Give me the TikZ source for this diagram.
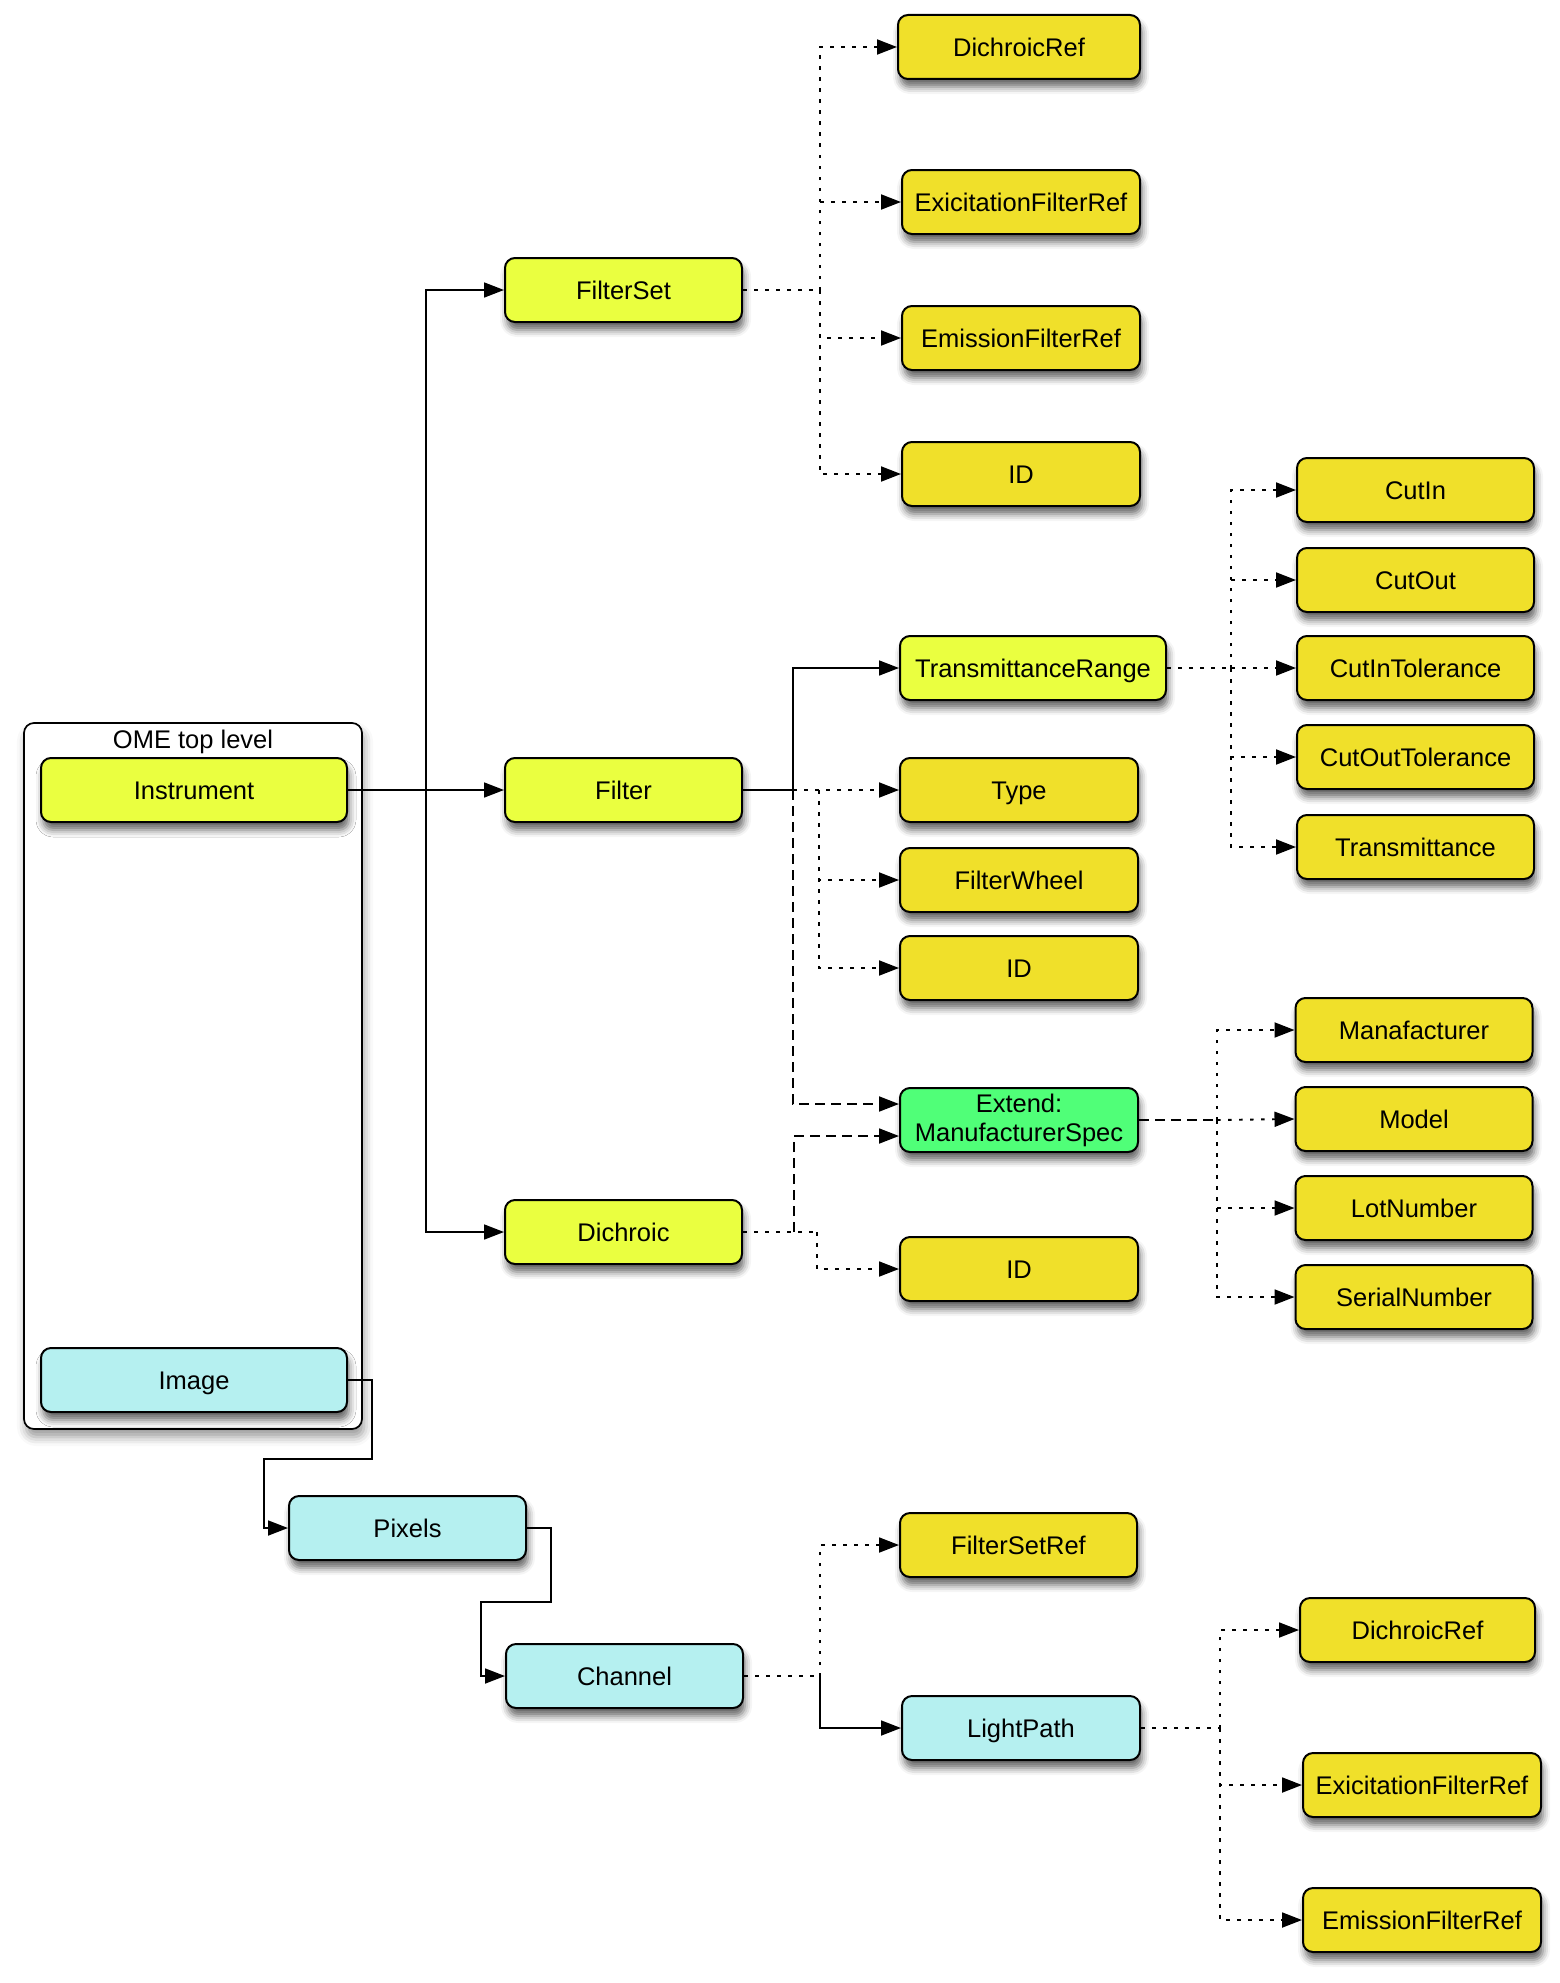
\documentclass[tikz,border=0pt]{standalone}
\usepackage{fontspec}
\setmainfont{Liberation Sans}
\usetikzlibrary{arrows.meta,shadows.blur}

\definecolor{hiyellow}{HTML}{EAFF40}
\definecolor{leafyellow}{HTML}{F0E02A}
\definecolor{imgcyan}{HTML}{B5F0F0}
\definecolor{extgreen}{HTML}{50FF78}

\tikzset{
  box/.style={draw, line width=2pt, rounded corners=10pt, inner sep=0pt,
    minimum height=64pt, align=center,
    text height=18.5pt, text depth=0pt,
    font=\fontsize{25.5}{29}\selectfont,
    blur shadow={shadow xshift=2pt, shadow yshift=-8pt,
      shadow blur radius=7pt, shadow opacity=60}},
  parentbox/.style={box, fill=hiyellow},
  leafbox/.style={box, fill=leafyellow},
  imgbox/.style={box, fill=imgcyan},
  extbox/.style={box, fill=extgreen, text height=, text depth=},
  conn/.style={line width=1.7pt},
  tip/.style={-{Triangle[length=20pt,width=15pt]}},
  dotline/.style={conn, line width=1.9pt, dash pattern=on 3.5pt off 7.5pt},
  dashline/.style={conn, line width=1.9pt, dash pattern=on 10pt off 6pt},
}

\begin{document}
\begin{tikzpicture}[x=1pt,y=-1pt]
\useasboundingbox (0,0) rectangle (1560,1983);

% group frame holding the top-level elements
\node[draw, line width=1.7pt, rounded corners=10pt, fill=white,
  minimum width=338pt, minimum height=706pt, inner sep=0pt,
  blur shadow={shadow xshift=2pt, shadow yshift=-8pt,
      shadow blur radius=9pt, shadow opacity=40}]
  (ome) at (193,1076) {};
\node[font=\fontsize{25.5}{29}\selectfont, inner sep=0pt,
  text height=18.5pt, text depth=0pt] (omelabel) at (193,739) {OME top level};

% top level
\node[parentbox, minimum width=306pt] (inst) at (194,790) {Instrument};
\node[imgbox, minimum width=306pt] (img) at (194,1380) {Image};

% instrument children
\node[parentbox, minimum width=237pt] (fset) at (623.5,290) {FilterSet};
\node[parentbox, minimum width=237pt] (filter) at (623.5,790) {Filter};
\node[parentbox, minimum width=237pt] (dich) at (623.5,1232) {Dichroic};

% filter set children
\node[leafbox, minimum width=242pt] (dref) at (1019,47) {DichroicRef};
\node[leafbox, minimum width=238pt] (eref) at (1021,202) {ExicitationFilterRef};
\node[leafbox, minimum width=238pt] (emref) at (1021,338) {EmissionFilterRef};
\node[leafbox, minimum width=238pt] (fsid) at (1021,474) {ID};

% filter children
\node[parentbox, minimum width=266pt] (trange) at (1033,668) {TransmittanceRange};
\node[leafbox, minimum width=238pt] (type) at (1019,790) {Type};
\node[leafbox, minimum width=238pt] (fwheel) at (1019,880) {FilterWheel};
\node[leafbox, minimum width=238pt] (fid) at (1019,968) {ID};
\node[extbox, minimum width=238pt] (ext) at (1019,1120) {Extend:\\ManufacturerSpec};
\node[leafbox, minimum width=238pt] (did) at (1019,1269) {ID};

% transmittance range children
\node[leafbox, minimum width=237pt] (cutin) at (1415.5,490) {CutIn};
\node[leafbox, minimum width=237pt] (cutout) at (1415.5,580) {CutOut};
\node[leafbox, minimum width=237pt] (cutintol) at (1415.5,668) {CutInTolerance};
\node[leafbox, minimum width=237pt] (cutouttol) at (1415.5,757) {CutOutTolerance};
\node[leafbox, minimum width=237pt] (trans) at (1415.5,847) {Transmittance};

% manufacturer spec children
\node[leafbox, minimum width=237pt] (manu) at (1414,1030) {Manafacturer};
\node[leafbox, minimum width=237pt] (model) at (1414,1119) {Model};
\node[leafbox, minimum width=237pt] (lot) at (1414,1208) {LotNumber};
\node[leafbox, minimum width=237pt] (serial) at (1414,1297) {SerialNumber};

% image branch
\node[imgbox, minimum width=237pt] (pix) at (407.5,1528) {Pixels};
\node[imgbox, minimum width=237pt] (chan) at (624.5,1676) {Channel};
\node[leafbox, minimum width=237pt] (fsref) at (1018.5,1545) {FilterSetRef};
\node[imgbox, minimum width=238pt] (lp) at (1021,1728) {LightPath};
\node[leafbox, minimum width=235pt] (lpdref) at (1417.5,1630) {DichroicRef};
\node[leafbox, minimum width=238pt] (lperef) at (1422,1785) {ExicitationFilterRef};
\node[leafbox, minimum width=238pt] (lpemref) at (1422,1920) {EmissionFilterRef};

% junction points
\coordinate (jI) at (426,790);
\coordinate (jFS) at (820,290);
\coordinate (jF) at (793,790);
\coordinate (jF2) at (819,790);
\coordinate (jD) at (794,1232);
\coordinate (jD2) at (817,1232);
\coordinate (jT) at (1231,668);
\coordinate (jE) at (1217,1120);
\coordinate (jImgA) at (372,1380);
\coordinate (jImgB) at (372,1459);
\coordinate (jImgC) at (264,1459);
\coordinate (jPixA) at (551,1528);
\coordinate (jPixB) at (551,1602);
\coordinate (jPixC) at (481,1602);
\coordinate (jC) at (820,1676);
\coordinate (jL) at (1220,1728);

% instrument
\draw[conn] (inst.east) -- (jI);
\draw[conn,tip] (jI) |- (fset.west);
\draw[conn,tip] (jI) -- (filter.west);
\draw[conn,tip] (jI) |- (dich.west);

% filter set
\draw[dotline] (fset.east) -- (jFS);
\draw[dotline,tip] (jFS) |- (dref.west);
\draw[dotline,tip] (jFS) |- (eref.west);
\draw[dotline,tip] (jFS) |- (emref.west);
\draw[dotline,tip] (jFS) |- (fsid.west);

% filter
\draw[conn] (filter.east) -- (jF);
\draw[conn,tip] (jF) |- (trange.west);
\draw[dotline,tip] (jF) -- (type.west);
\draw[dotline,tip] (jF2) |- (fwheel.west);
\draw[dotline,tip] (jF2) |- (fid.west);
\draw[dashline,tip] (jF) |- ([yshift=16pt]ext.west);

% dichroic
\draw[dotline] (dich.east) -- (jD2);
\draw[dotline,tip] (jD2) |- (did.west);
\draw[dashline,tip] (jD) |- ([yshift=-16pt]ext.west);

% transmittance range
\draw[dotline] (trange.east) -- (jT);
\draw[dotline,tip] (jT) |- (cutin.west);
\draw[dotline,tip] (jT) |- (cutout.west);
\draw[dotline,tip] (jT) -- (cutintol.west);
\draw[dotline,tip] (jT) |- (cutouttol.west);
\draw[dotline,tip] (jT) |- (trans.west);

% manufacturer spec
\draw[dashline] (ext.east) -- (jE);
\draw[dotline,tip] (jE) |- (manu.west);
\draw[dotline,tip] (jE) -- (model.west);
\draw[dotline,tip] (jE) |- (lot.west);
\draw[dotline,tip] (jE) |- (serial.west);

% image -> pixels -> channel
\draw[conn,tip] (img.east) -- (jImgA) -- (jImgB) -- (jImgC) |- (pix.west);
\draw[conn,tip] (pix.east) -- (jPixA) -- (jPixB) -- (jPixC) |- (chan.west);

% channel
\draw[dotline] (chan.east) -- (jC);
\draw[dotline,tip] (jC) |- (fsref.west);
\draw[conn,tip] (jC) |- (lp.west);

% light path
\draw[dotline] (lp.east) -- (jL);
\draw[dotline,tip] (jL) |- (lpdref.west);
\draw[dotline,tip] (jL) |- (lperef.west);
\draw[dotline,tip] (jL) |- (lpemref.west);
\end{tikzpicture}
\end{document}
